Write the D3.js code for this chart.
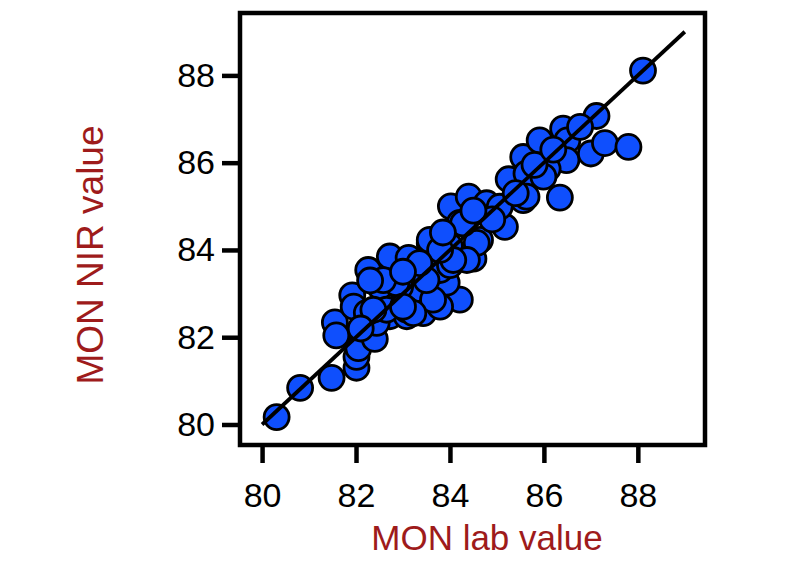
<!DOCTYPE html>
<html>
<head>
<meta charset="utf-8">
<script src="https://cdn.jsdelivr.net/npm/d3@7"></script>
<style>
  body { margin: 0; background: #fff; }
  svg { display: block; }
</style>
</head>
<body>
<svg class="chart" width="800" height="561"></svg>
<script>
// lab reference value (x) and NIR prediction (y) for each sample
var labValue = [
  80.31, 80.81, 81.48, 82.01, 82.01, 81.55, 81.58, 82.05, 82.40, 81.92,
  81.95, 82.26, 82.72, 83.12, 83.57, 84.02, 84.40, 84.78, 84.21, 83.93,
  84.50, 84.64, 85.17, 85.56, 85.25, 85.56, 85.91, 86.34, 86.41, 86.50,
  86.48, 86.08, 87.00, 87.12, 87.30, 87.80, 88.11, 82.72, 83.08, 82.86,
  83.29, 82.44, 82.23, 84.00, 84.21, 84.57, 82.51, 82.94, 83.50, 83.79,
  84.00, 84.36, 83.08, 83.43, 83.79, 82.65, 85.06, 84.28, 83.57, 84.07,
  83.79, 86.77, 85.63, 85.99, 85.63, 83.64, 83.50, 82.86, 82.58, 82.37,
  83.22, 83.00, 82.30, 83.35, 83.85, 84.90, 85.40, 85.80, 86.20, 82.10,
  84.50, 83.00
];
var nirValue = [
  80.17, 80.84, 81.07, 81.30, 81.55, 82.34, 82.04, 81.75, 81.96, 82.96,
  82.70, 83.54, 83.85, 83.82, 84.15, 85.00, 85.22, 85.07, 82.86, 83.25,
  83.80, 84.23, 84.53, 85.14, 85.62, 86.13, 86.51, 85.20, 86.78, 86.51,
  86.06, 85.86, 86.21, 87.07, 86.45, 86.36, 88.11, 82.48, 82.48, 82.93,
  83.01, 82.33, 82.56, 84.08, 84.62, 84.16, 83.16, 83.16, 83.39, 83.54,
  83.65, 83.77, 82.63, 82.55, 82.70, 82.63, 84.99, 84.61, 84.23, 83.77,
  84.00, 86.82, 85.75, 85.68, 85.22, 82.86, 83.31, 83.24, 83.31, 82.63,
  82.55, 82.70, 83.30, 83.70, 84.40, 84.70, 85.30, 85.95, 86.30, 82.20,
  84.90, 83.50
];
var tickValues = [80, 82, 84, 86, 88];
var fitLine = [80, 89];

var svg = d3.select('.chart');
var boxL = 240, boxR = 705, boxT = 13, boxB = 445;
var domain = [79.53, 89.43];

var x = d3.scaleLinear().domain(domain).range([boxL, boxR]);
var y = d3.scaleLinear().domain(domain).range([boxB, boxT]);

var data = labValue.map(function(d, i) { return {lab: d, nir: nirValue[i]}; });

// axes, ticks outside the box
var xAxis = d3.axisBottom(x).tickValues(tickValues).tickSize(18).tickSizeOuter(0).tickPadding(20);
var yAxis = d3.axisLeft(y).tickValues(tickValues).tickSize(18).tickSizeOuter(0).tickPadding(7);

var gx = svg.append('g')
  .attr('transform', 'translate(0,' + boxB + ')')
  .call(xAxis);
var gy = svg.append('g')
  .attr('transform', 'translate(' + boxL + ',0)')
  .call(yAxis);

[gx, gy].forEach(function(g) {
  g.select('.domain').remove();
  g.selectAll('line').attr('stroke', '#000').attr('stroke-width', 4.5);
  g.selectAll('text')
    .attr('fill', '#000')
    .attr('font-family', 'Liberation Sans, Arial, sans-serif')
    .attr('font-size', '34px');
});

// points
svg.append('g').selectAll('circle')
  .data(data)
  .enter()
  .append('circle')
  .attr('cx', d => x(d.lab))
  .attr('cy', d => y(d.nir))
  .attr('r', 12.5)
  .attr('fill', '#0f4ffd')
  .attr('stroke', '#000')
  .attr('stroke-width', 2.8);

// 1:1 line over the points
svg.append('line')
  .attr('x1', x(fitLine[0])).attr('y1', y(fitLine[0]))
  .attr('x2', x(fitLine[1])).attr('y2', y(fitLine[1]))
  .attr('stroke', '#000')
  .attr('stroke-width', 3.8);

// frame
svg.append('rect')
  .attr('x', boxL).attr('y', boxT)
  .attr('width', boxR - boxL).attr('height', boxB - boxT)
  .attr('fill', 'none')
  .attr('stroke', '#000')
  .attr('stroke-width', 4.5);

// axis titles
svg.append('text')
  .text('MON lab value')
  .attr('x', 487)
  .attr('y', 550)
  .attr('text-anchor', 'middle')
  .attr('font-family', 'Liberation Sans, Arial, sans-serif')
  .attr('font-size', '35px')
  .attr('fill', '#9e1b1b');

svg.append('text')
  .text('MON NIR value')
  .attr('transform', 'translate(103,255) rotate(-90)')
  .attr('text-anchor', 'middle')
  .attr('font-family', 'Liberation Sans, Arial, sans-serif')
  .attr('font-size', '37px')
  .attr('fill', '#9e1b1b');
</script>
</body>
</html>
